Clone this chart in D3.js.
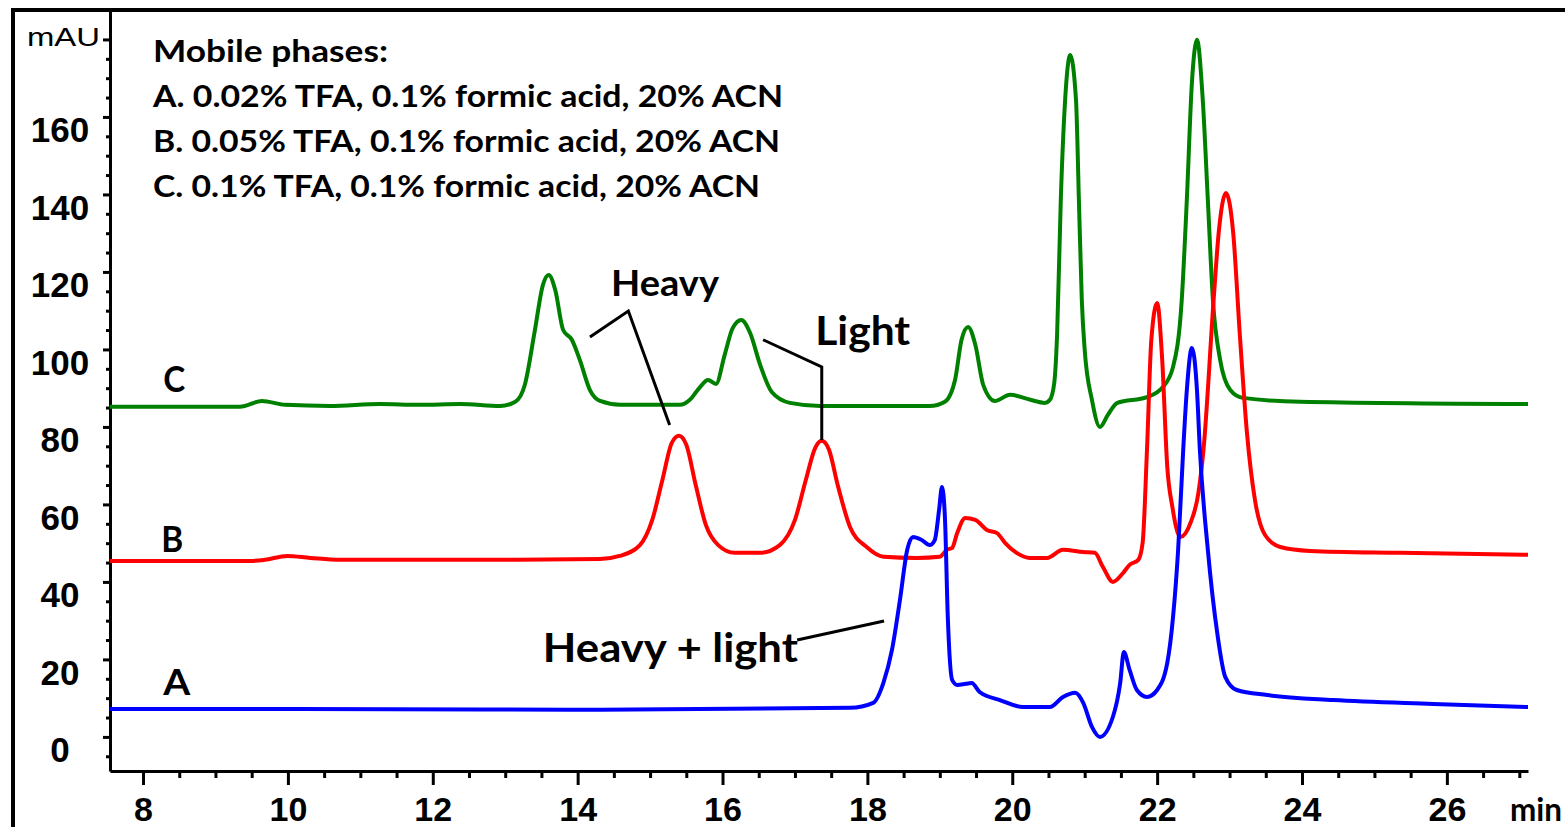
<!DOCTYPE html>
<html>
<head>
<meta charset="utf-8">
<script src="https://cdn.jsdelivr.net/npm/d3@7"></script>
<style>
  body { margin: 0; background: #fff; }
  svg { display: block; }
</style>
</head>
<body>
<svg></svg>
<script>
// retention time (min) and absorbance (mAU)
var timeA = [7.54, 10.17, 14.31, 17.76, 18.08, 18.22, 18.34, 18.45, 18.55, 18.63, 18.75, 18.86, 18.93, 18.99, 19.03, 19.07, 19.11, 19.17, 19.24, 19.36, 19.44, 19.55, 19.83, 20.15, 20.52, 20.70, 20.87, 20.98, 21.10, 21.21, 21.39, 21.49, 21.54, 21.62, 21.72, 21.86, 22.00, 22.14, 22.22, 22.29, 22.36, 22.41, 22.48, 22.55, 22.59, 22.70, 22.83, 22.94, 23.10, 23.52, 24.43, 25.81, 27.12];
var mauA  = [7.2, 7.2, 7.0, 7.5, 8.8, 13.9, 22.5, 35.4, 48.3, 51.6, 50.8, 49.5, 50.8, 58.6, 64.5, 56.8, 31.0, 14.7, 13.4, 13.7, 13.9, 11.6, 9.5, 7.7, 7.7, 10.3, 11.4, 8.8, 2.6, 0.0, 5.2, 13.9, 21.9, 17.3, 12.1, 10.3, 12.1, 19.1, 31.0, 48.3, 74.1, 89.5, 100.4, 89.5, 74.1, 48.3, 26.8, 15.5, 12.1, 10.8, 9.5, 8.5, 7.7];

var timeB = [7.54, 9.48, 9.68, 9.99, 10.31, 10.72, 12.93, 14.31, 14.58, 14.86, 15.03, 15.17, 15.30, 15.40, 15.50, 15.63, 15.77, 15.94, 16.17, 16.52, 16.79, 17.00, 17.15, 17.28, 17.37, 17.47, 17.59, 17.76, 17.99, 18.22, 18.68, 19.00, 19.10, 19.17, 19.24, 19.35, 19.49, 19.65, 19.79, 19.90, 20.06, 20.24, 20.48, 20.70, 20.98, 21.14, 21.25, 21.39, 21.53, 21.62, 21.74, 21.80, 21.86, 21.92, 22.00, 22.07, 22.14, 22.21, 22.32, 22.46, 22.57, 22.64, 22.78, 22.85, 22.95, 23.05, 23.14, 23.24, 23.35, 23.49, 23.70, 24.11, 25.35, 27.12];
var mauB  = [45.4, 45.4, 45.7, 46.7, 46.2, 45.7, 45.7, 45.9, 46.7, 49.5, 56.0, 66.3, 75.9, 77.7, 75.4, 65.0, 54.7, 49.5, 47.5, 47.5, 49.5, 56.0, 66.3, 74.6, 76.4, 74.1, 65.0, 54.2, 49.0, 46.5, 46.2, 46.5, 48.3, 48.8, 52.6, 56.5, 56.0, 53.4, 52.6, 50.1, 47.5, 46.2, 46.2, 48.3, 47.7, 47.5, 43.9, 40.0, 42.3, 44.4, 45.7, 50.1, 74.1, 102.5, 112.0, 97.3, 69.7, 59.4, 51.6, 55.2, 63.0, 74.1, 112.8, 130.1, 140.4, 130.1, 104.3, 78.5, 61.2, 52.1, 49.0, 48.0, 47.5, 47.0];

var timeC = [7.54, 9.34, 9.64, 9.96, 10.58, 11.27, 11.82, 12.38, 12.93, 13.14, 13.27, 13.41, 13.52, 13.60, 13.69, 13.80, 13.92, 14.03, 14.17, 14.31, 14.59, 15.41, 15.55, 15.69, 15.80, 15.91, 16.03, 16.14, 16.26, 16.38, 16.52, 16.68, 16.93, 17.35, 18.86, 19.07, 19.21, 19.30, 19.39, 19.49, 19.60, 19.76, 19.97, 20.25, 20.45, 20.52, 20.58, 20.62, 20.67, 20.73, 20.80, 20.88, 20.92, 20.96, 21.00, 21.10, 21.21, 21.32, 21.45, 21.86, 22.08, 22.22, 22.34, 22.41, 22.48, 22.55, 22.63, 22.70, 22.77, 22.87, 23.01, 23.18, 23.97, 27.12];
var mauC  = [85.2, 85.2, 86.7, 85.7, 85.4, 85.9, 85.7, 85.9, 85.4, 86.5, 90.8, 105.0, 116.6, 119.2, 115.4, 105.0, 102.5, 97.3, 89.5, 86.7, 85.7, 85.7, 87.0, 90.3, 92.1, 91.1, 98.6, 105.5, 107.6, 104.3, 96.0, 89.0, 86.2, 85.4, 85.4, 86.5, 92.1, 102.5, 105.8, 101.2, 90.8, 86.7, 88.3, 87.0, 86.2, 87.0, 91.4, 104.3, 138.6, 164.4, 176.0, 164.4, 138.6, 112.8, 99.9, 87.0, 80.0, 83.1, 86.2, 87.7, 90.3, 95.5, 112.8, 138.6, 168.8, 179.9, 164.4, 138.6, 112.8, 97.3, 89.5, 87.5, 86.5, 85.9];

var yTicks = [0, 20, 40, 60, 80, 100, 120, 140, 160, 180];
var xTicks = [8, 10, 12, 14, 16, 18, 20, 22, 24, 26];
var legendLines = ["Mobile phases:", "A. 0.02% TFA, 0.1% formic acid, 20% ACN", "B. 0.05% TFA, 0.1% formic acid, 20% ACN", "C. 0.1% TFA, 0.1% formic acid, 20% ACN"];

var screen = {width: 1565, height: 827};
var plot = {left: 110, right: 1528, top: 10, bottom: 771};

var svg = d3.select("svg")
    .attr("width", screen.width)
    .attr("height", screen.height);

var xScale = d3.scaleLinear().domain([7.544, 27.12]).range([plot.left, plot.right]);
var yScale = d3.scaleLinear().domain([-8.8, 187.6]).range([plot.bottom, plot.top]);

// outer frame (left + top only, rest is cut off)
svg.append("path")
    .attr("d", "M13," + screen.height + " L13,10 L" + screen.width + ",10")
    .attr("fill", "none")
    .attr("stroke", "black")
    .attr("stroke-width", 4);

// minor ticks
var yMinor = d3.range(-5, 181, 5).filter(function(d){ return d % 20 != 0; });
var xMinor = d3.range(8.5, 27.1, 0.5).filter(function(d){ return d % 2 != 0; });

svg.append("g")
    .attr("transform", "translate(" + plot.left + ",0)")
    .call(d3.axisLeft(yScale).tickValues(yMinor).tickSize(4).tickSizeOuter(0).tickFormat(""))
    .call(function(g){ g.select(".domain").remove(); })
    .selectAll("line").attr("stroke-width", 3);

svg.append("g")
    .attr("transform", "translate(0," + plot.bottom + ")")
    .call(d3.axisBottom(xScale).tickValues(xMinor).tickSize(7).tickSizeOuter(0).tickFormat(""))
    .call(function(g){ g.select(".domain").remove(); })
    .selectAll("line").attr("stroke-width", 3);

// y axis
var yAxis = svg.append("g")
    .attr("transform", "translate(" + plot.left + ",0)")
    .call(d3.axisLeft(yScale).tickValues(yTicks).tickSize(7).tickSizeOuter(0)
        .tickFormat(function(d){ return d == 180 ? "mAU" : d; }));
yAxis.select(".domain").attr("stroke-width", 3);
yAxis.selectAll("line").attr("stroke-width", 3);
yAxis.selectAll("text")
    .attr("x", -50)
    .attr("y", 25)
    .attr("dy", 0)
    .attr("text-anchor", "middle")
    .attr("fill", "black")
    .style("font-family", "'Liberation Sans', Arial, sans-serif")
    .style("font-weight", "bold")
    .style("font-size", "35px");
yAxis.selectAll(".tick")
    .filter(function(d){ return d == 180; })
    .select("text")
    .attr("x", -83)
    .attr("y", 6)
    .attr("text-anchor", "start")
    .attr("textLength", 73)
    .attr("lengthAdjust", "spacingAndGlyphs")
    .style("font-family", "'Liberation Sans', Arial, sans-serif")
    .style("font-weight", "normal")
    .style("font-size", "26px");

// x axis
var xAxis = svg.append("g")
    .attr("transform", "translate(0," + plot.bottom + ")")
    .call(d3.axisBottom(xScale).tickValues(xTicks).tickSize(14).tickSizeOuter(0));
xAxis.select(".domain").attr("stroke-width", 3);
xAxis.selectAll("line").attr("stroke-width", 3);
xAxis.selectAll("text")
    .attr("y", 50)
    .attr("dy", 0)
    .attr("fill", "black")
    .style("font-family", "'Liberation Sans', Arial, sans-serif")
    .style("font-weight", "bold")
    .style("font-size", "34px");

svg.append("text")
    .attr("x", 1510)
    .attr("y", 821)
    .attr("textLength", 52)
    .attr("lengthAdjust", "spacingAndGlyphs")
    .style("font-family", "Lato, sans-serif")
    .style("font-weight", "bold")
    .style("font-size", "32px")
    .text("min");

// traces
var line = d3.line()
    .x(function(d){ return xScale(d[0]); })
    .y(function(d){ return yScale(d[1]); })
    .curve(d3.curveMonotoneX);

var traces = [
    {t: timeC, v: mauC, color: "#008000"},
    {t: timeB, v: mauB, color: "#ff0000"},
    {t: timeA, v: mauA, color: "#0000ff"}
];

svg.append("g")
    .selectAll("path")
    .data(traces)
    .enter()
    .append("path")
    .attr("d", function(tr){ return line(d3.zip(tr.t, tr.v)); })
    .attr("fill", "none")
    .attr("stroke", function(tr){ return tr.color; })
    .attr("stroke-width", 4)
    .attr("stroke-linejoin", "round");

// annotation leader lines, in (min, mAU)
var leaders = [
    [[14.17, 103.2], [14.70, 109.9], [15.27, 80.5]],
    [[16.56, 102.5], [17.37, 95.5], [17.37, 76.6]],
    [[17.03, 25.0], [18.23, 29.9]]
];
var straight = d3.line()
    .x(function(d){ return xScale(d[0]); })
    .y(function(d){ return yScale(d[1]); });

svg.append("g")
    .selectAll("path")
    .data(leaders)
    .enter()
    .append("path")
    .attr("d", straight)
    .attr("fill", "none")
    .attr("stroke", "black")
    .attr("stroke-width", 3);

// labels, anchored at (min, mAU) of their baseline start
var labels = [
    {text: "Heavy", t: 14.46, v: 113.8, size: 36, len: 108},
    {text: "Light", t: 17.28, v: 101.2, size: 40, len: 95},
    {text: "Heavy + light", t: 13.52, v: 19.4, size: 40, len: 255},
    {text: "C", t: 8.28, v: 89.0, size: 36, len: 22},
    {text: "B", t: 8.25, v: 47.7, size: 36, len: 22},
    {text: "A", t: 8.28, v: 10.8, size: 36, len: 27}
];

svg.append("g")
    .selectAll("text")
    .data(labels)
    .enter()
    .append("text")
    .attr("x", function(d){ return xScale(d.t); })
    .attr("y", function(d){ return yScale(d.v); })
    .attr("textLength", function(d){ return d.len; })
    .attr("lengthAdjust", "spacingAndGlyphs")
    .style("font-family", "Lato, sans-serif")
    .style("font-weight", "bold")
    .style("font-size", function(d){ return d.size + "px"; })
    .text(function(d){ return d.text; });

// legend block
var legendLen = [235, 630, 627, 607];
svg.append("g")
    .selectAll("text")
    .data(legendLines)
    .enter()
    .append("text")
    .attr("x", 153)
    .attr("y", function(d, i){ return 62 + i * 45; })
    .attr("textLength", function(d, i){ return legendLen[i]; })
    .attr("lengthAdjust", "spacingAndGlyphs")
    .style("font-family", "Lato, sans-serif")
    .style("font-weight", "bold")
    .style("font-size", "30px")
    .text(function(d){ return d; });
</script>
</body>
</html>
